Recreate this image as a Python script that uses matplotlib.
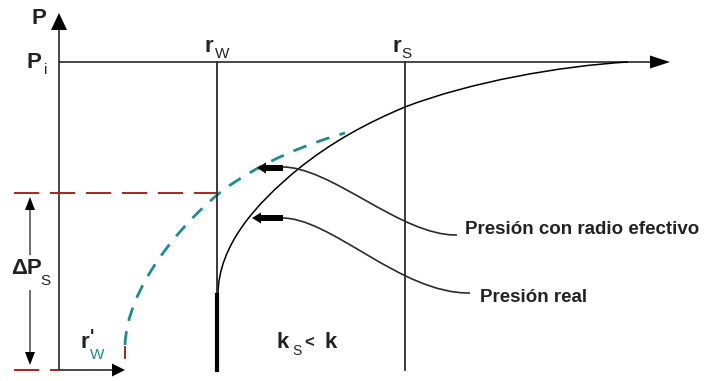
import matplotlib.pyplot as plt
from matplotlib.path import Path
from matplotlib.patches import PathPatch

plt.rcParams['font.family'] = ['Liberation Sans', 'DejaVu Sans']

# =======================
# geometry (pixel coords, y down)
# =======================
x_axis0 = 59      # P axis
x_rw = 217        # r_w line
x_rs = 405        # r_s line
x_rw_eff = 125    # r'_w
y_pi = 62         # P_i line
y_bot = 370       # bottom line
y_dps = 193       # top of delta P_s

# curves as cubic bezier control points: start, then (c1, c2, end) per segment
real_curve = [(218, 295),
              (218, 245), (257, 203), (297, 170),
              (331, 142), (369, 122), (405, 107),
              (470, 82), (560, 66), (628, 62)]
eff_curve = [(125, 345),
             (127, 287), (182, 223), (222, 191),
             (262, 161), (310, 143), (345, 133)]
lead_eff = [(280, 167), (330, 165), (400, 236), (457, 235)]
lead_real = [(280, 218), (330, 216), (400, 294), (470, 293)]


def bez(pts, **kw):
    codes = [Path.MOVETO] + [Path.CURVE4] * (len(pts) - 1)
    ax.add_patch(PathPatch(Path(pts, codes), fill=False, **kw))


def head(x, y, dx, dy, hl, hw, w=1.4, c='black'):
    ax.arrow(x, y, dx, dy, width=w, head_length=hl, head_width=hw,
             length_includes_head=True, color=c, lw=0)


fig = plt.figure(figsize=(7.07, 3.81), dpi=100)
ax = fig.add_axes([0, 0, 1, 1])
ax.set_xlim(0, 707)
ax.set_ylim(381, 0)
ax.axis('off')

axc = '#2b2b2b'
red = '#a82424'
teal = '#1f8c8c'

# red dashed lines (under the axes)
ax.plot([14, x_rw], [y_dps, y_dps], color=red, lw=1.4, dashes=(13, 5.5))
ax.plot([14, x_axis0], [y_bot, y_bot], color=red, lw=1.4, dashes=(13, 5.5))
ax.plot([x_rw_eff, x_rw_eff], [y_bot - 12, 347], color=red, lw=1.4)

# axes with arrowheads
head(x_axis0, y_bot, 0, 13 - y_bot, 17, 16)
head(x_axis0, y_pi, 670 - x_axis0, 0, 20, 13)
head(x_axis0, y_bot, x_rw_eff - x_axis0, 0, 13, 13)

# vertical lines
ax.plot([x_rw, x_rw], [y_pi, y_bot], color=axc, lw=1.3)
ax.plot([x_rw, x_rw], [295, y_bot], color='black', lw=3)
ax.plot([x_rs, x_rs], [y_pi, y_bot], color=axc, lw=1.3)

# delta P_s double arrow
head(30, 255, 0, 197 - 255, 13, 10, w=1.1)
head(30, 290, 0, 365 - 290, 13, 10, w=1.1)

# curves
bez(real_curve, color='black', lw=1.1)
bez(eff_curve, color=teal, lw=2.0, linestyle=(0, (5, 3.8)))

# leaders
bez(lead_eff, color=axc, lw=1.2)
bez(lead_real, color=axc, lw=1.2)
head(283, 168, -26, 0, 9, 11, w=6)
head(283, 218, -31, 0, 9, 11, w=6)

# texts
tc = '#222222'
tb = dict(fontweight='bold', color=tc, ha='center', va='center')
ts = dict(color=tc, ha='center', va='center')
ax.text(39, 18, 'P', fontsize=16, **tb)
ax.text(34, 62, 'P', fontsize=16, **tb)
ax.text(46, 70, 'i', fontsize=11, **ts)
ax.text(209, 46, 'r', fontsize=16, **tb)
ax.text(222, 54, 'W', fontsize=11, **ts)
ax.text(397, 46, 'r', fontsize=16, **tb)
ax.text(406, 54, 'S', fontsize=11, **ts)
ax.text(27, 268, 'ΔP', fontsize=16, **tb)
ax.text(45, 281, 'S', fontsize=11, **ts)
ax.text(85, 343, 'r', fontsize=16, **tb)
ax.text(92, 337, "'", fontsize=13, **tb)
ax.text(97, 355, 'W', fontsize=11, color=teal, ha='center', va='center')
ax.text(283, 343, 'k', fontsize=16, **tb)
ax.text(297, 351, 'S', fontsize=10, **ts)
ax.text(309, 343, '<', fontsize=12, **tb)
ax.text(331, 343, 'k', fontsize=16, **tb)
ax.text(465, 230, 'Presión con radio efectivo', fontsize=13.5, ha='left',
        va='center', fontweight='bold', color=tc)
ax.text(480, 297, 'Presión real', fontsize=13.5, ha='left', va='center',
        fontweight='bold', color=tc)

fig.savefig('out.png', dpi=100)
